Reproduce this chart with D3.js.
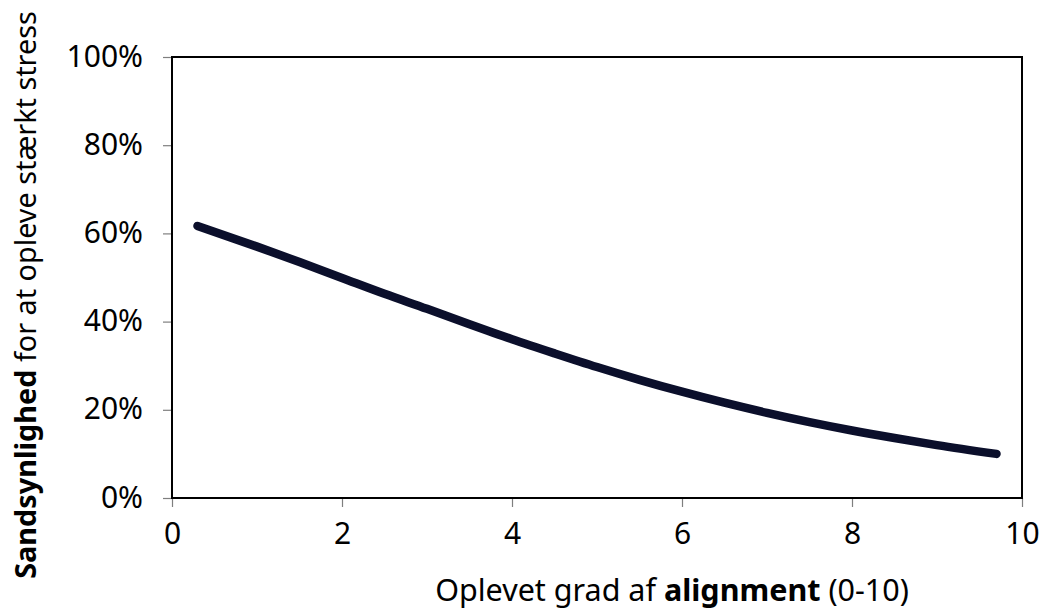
<!DOCTYPE html>
<html>
<head>
<meta charset="utf-8">
<script src="https://cdn.jsdelivr.net/npm/d3@7"></script>
<style>
  body { margin: 0; background: #fff; }
  text { font-family: "Noto Sans", sans-serif; fill: #000; }
</style>
</head>
<body>
<div id="chart"></div>
<script>
  // Data
  const alignment = [0.3, 1, 1.5, 2, 2.5, 3, 3.5, 4, 4.5, 5, 5.5, 6, 6.5, 7, 7.5, 8, 8.5, 9, 9.7]
  const probability = [0.617, 0.570, 0.535, 0.499, 0.463, 0.429, 0.394, 0.360, 0.328, 0.297, 0.268, 0.241, 0.216, 0.193, 0.172, 0.153, 0.136, 0.120, 0.100]
  const xTicks = [0, 2, 4, 6, 8, 10]
  const yTicks = [0, 0.2, 0.4, 0.6, 0.8, 1]

  const dataset = alignment.map((x, i) => ({ x, y: probability[i] }))
  const xAccessor = d => d.x
  const yAccessor = d => d.y

  let dimensions = {
    width: 1045,
    height: 609,
    margin: { top: 57, right: 23, bottom: 111, left: 172 },
  }
  dimensions.boundedWidth = dimensions.width - dimensions.margin.left - dimensions.margin.right
  dimensions.boundedHeight = dimensions.height - dimensions.margin.top - dimensions.margin.bottom

  const svg = d3.select("#chart")
    .append("svg")
      .attr("width", dimensions.width)
      .attr("height", dimensions.height)
  const bounds = svg.append("g")
    .attr("transform", `translate(${dimensions.margin.left},${dimensions.margin.top})`)

  const xScale = d3.scaleLinear()
    .domain([0, 10])
    .range([0, dimensions.boundedWidth])
  const yScale = d3.scaleLinear()
    .domain([0, 1])
    .range([dimensions.boundedHeight, 0])

  // axes
  const xAxis = bounds.append("g")
    .attr("transform", `translate(0,${dimensions.boundedHeight})`)
    .call(d3.axisBottom(xScale).tickValues(xTicks).tickSize(9).tickSizeOuter(0).tickPadding(16))
  const yAxis = bounds.append("g")
    .call(d3.axisLeft(yScale).tickValues(yTicks).tickFormat(d3.format(".0%")).tickSize(9).tickSizeOuter(0).tickPadding(20))

  ;[xAxis, yAxis].forEach(ax => {
    ax.select(".domain").remove()
    ax.selectAll(".tick line").attr("stroke", "#7f7f7f").attr("stroke-width", 1.2)
    ax.selectAll(".tick text").style("font-size", "30px").attr("fill", "#000")
  })
  yAxis.selectAll(".tick text").attr("dy", "0.3em")

  // plot frame
  bounds.append("rect")
    .attr("x", 0)
    .attr("y", 0)
    .attr("width", dimensions.boundedWidth)
    .attr("height", dimensions.boundedHeight)
    .attr("fill", "none")
    .attr("stroke", "#000")
    .attr("stroke-width", 2)

  // line
  const lineGenerator = d3.line()
    .x(d => xScale(xAccessor(d)))
    .y(d => yScale(yAccessor(d)))
    .curve(d3.curveMonotoneX)
  bounds.append("path")
    .attr("d", lineGenerator(dataset))
    .attr("fill", "none")
    .attr("stroke", "#0b0f2b")
    .attr("stroke-width", 8.5)
    .attr("stroke-linecap", "round")
    .attr("stroke-linejoin", "round")

  // axis titles
  const xLabel = svg.append("text")
    .attr("x", 672)
    .attr("y", 601)
    .attr("text-anchor", "middle")
    .style("font-size", "30.5px")
  xLabel.append("tspan").text("Oplevet grad af ")
  xLabel.append("tspan").attr("font-weight", 700).text("alignment")
  xLabel.append("tspan").text(" (0-10)")

  const yLabel = svg.append("text")
    .attr("transform", "translate(36,295) rotate(-90)")
    .attr("text-anchor", "middle")
    .style("font-size", "28.8px")
  yLabel.append("tspan").attr("font-weight", 700).text("Sandsynlighed")
  yLabel.append("tspan").text(" for at opleve stærkt stress")
</script>
</body>
</html>
